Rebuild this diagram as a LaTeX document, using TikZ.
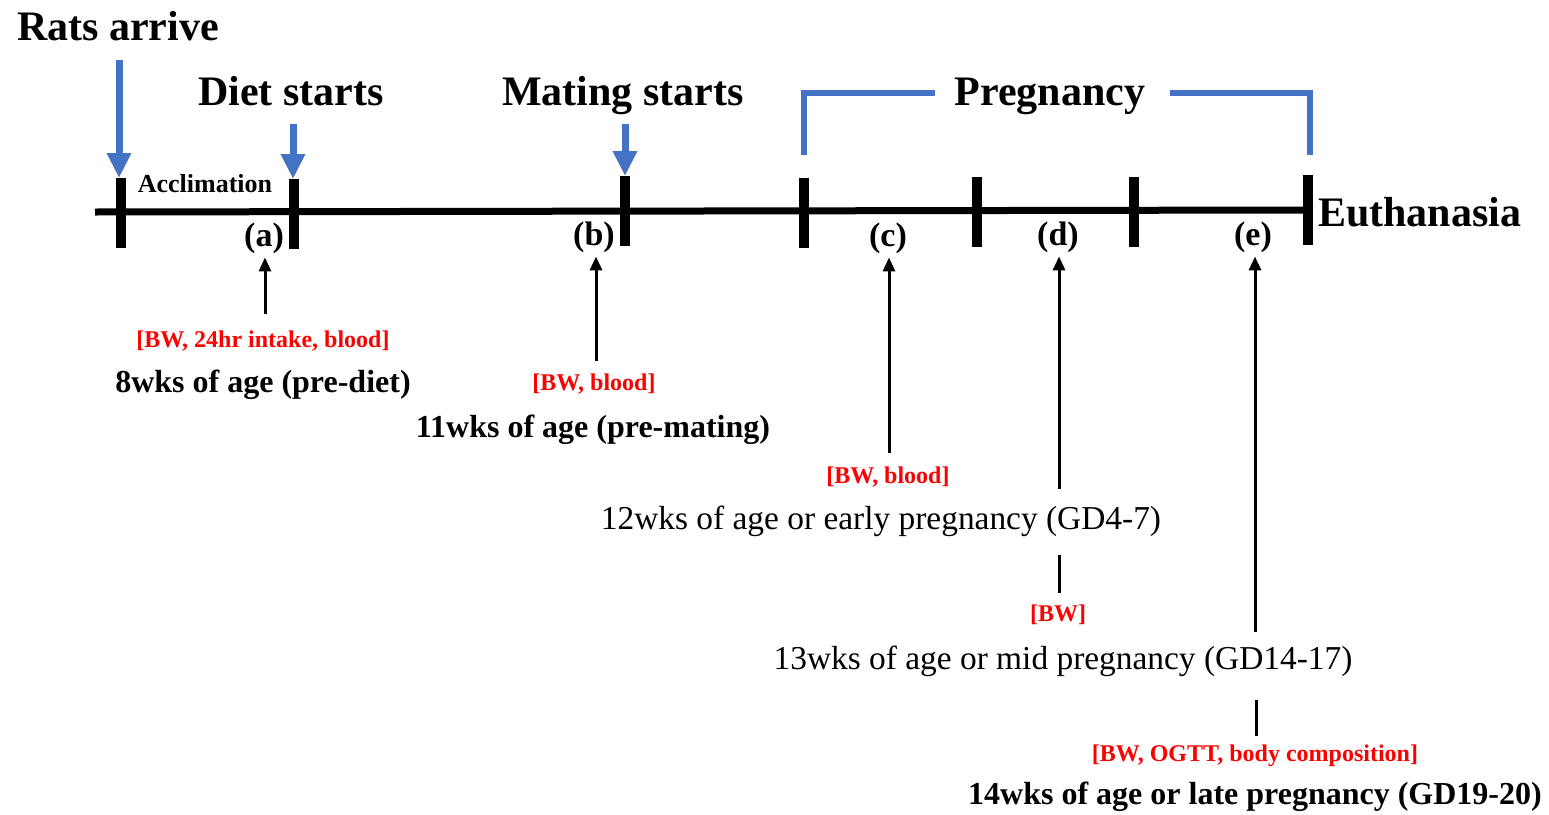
\documentclass[tikz,border=0pt]{standalone}
\usepackage{fontspec}
\setmainfont{Liberation Serif}
\usetikzlibrary{arrows.meta}
\definecolor{accent}{HTML}{4472C4}
\definecolor{note}{HTML}{FF0000}
\tikzset{
  every node/.style={inner sep=0pt, outer sep=0pt},
  headline/.style={font=\bfseries\fontsize{42}{46}\selectfont},
  periodlbl/.style={font=\bfseries\fontsize{26}{28}\selectfont},
  letterlbl/.style={font=\bfseries\fontsize{34}{38}\selectfont, inner sep=4pt},
  measure/.style={font=\bfseries\fontsize{24}{26}\selectfont, text=note},
  agebold/.style={font=\bfseries\fontsize{32}{36}\selectfont},
  ageplain/.style={font=\fontsize{33.4}{37}\selectfont},
  tickmark/.style={fill=black, minimum width=10pt, minimum height=70pt},
  timeline/.style={line width=7pt, black},
  bluearrow/.style={accent, line width=7pt, -{Triangle[width=23pt,length=25pt]}},
  bracketline/.style={accent, line width=6pt},
  blackarrow/.style={black, line width=3pt, -{Triangle[width=12pt,length=14pt]}},
  blackline/.style={black, line width=3pt}
}
\begin{document}
\begin{tikzpicture}[x=1pt, y=-1pt]
\useasboundingbox (0,0) rectangle (1549,814);

% main time axis
\coordinate (axisstart) at (95,212);
\node[tickmark] (t1) at (121,213) {};
\node[tickmark] (t2) at (294,214) {};
\node[tickmark] (t3) at (625,211) {};
\node[tickmark] (t4) at (804,213) {};
\node[tickmark] (t5) at (977,212) {};
\node[tickmark] (t6) at (1134,212) {};
\node[tickmark] (t7) at (1308,210) {};
\draw[timeline] (axisstart) -- (t7.center);

% events above the axis
\node[headline, anchor=base] (rats) at (118,40) {Rats arrive};
\node[headline, anchor=base] (diet) at (291,105) {Diet starts};
\node[headline, anchor=base] (mating) at (623,105) {Mating starts};
\node[headline, anchor=base] (preg) at (1050,105) {Pregnancy};
\node[headline, anchor=west] (euth) at (1318,212) {Euthanasia};
\node[periodlbl] (accl) at (205,184) {Acclimation};

\coordinate (ratstail) at (119,60);
\coordinate (diettail) at (293,124);
\coordinate (matingtail) at (625,124);
\draw[bluearrow] (ratstail) -- (t1.north -| ratstail);
\draw[bluearrow] (diettail) -- (t2.north -| diettail);
\draw[bluearrow] (matingtail) -- (t3.north -| matingtail);

% pregnancy bracket
\coordinate (pregL) at (804,155);
\coordinate (pregR) at (1310,155);
\coordinate (pregLend) at (935,93);
\coordinate (pregRend) at (1170,93);
\draw[bracketline] (pregL) |- (pregLend);
\draw[bracketline] (pregR) |- (pregRend);

% sampling points
\node[letterlbl] (a) at (264,238) {(a)};
\node[letterlbl] (b) at (594,237) {(b)};
\node[letterlbl] (c) at (888,238) {(c)};
\node[letterlbl] (d) at (1058,237) {(d)};
\node[letterlbl] (e) at (1253,237) {(e)};

\node[measure] (ma) at (263,341) {[BW, 24hr intake, blood]};
\node[agebold] (aa) at (263,385) {8wks of age (pre-diet)};
\node[measure] (mb) at (594,384) {[BW, blood]};
\node[agebold] (ab) at (593,430) {11wks of age (pre-mating)};
\node[measure] (mc) at (888,477) {[BW, blood]};
\node[ageplain] (ac) at (881,521) {12wks of age or early pregnancy (GD4-7)};
\node[measure] (md) at (1058,615) {[BW]};
\node[ageplain] (ad) at (1063,661) {13wks of age or mid pregnancy (GD14-17)};
\node[measure] (me) at (1255,756) {[BW, OGTT, body composition]};
\node[agebold] (ae) at (1255,797) {14wks of age or late pregnancy (GD19-20)};

% arrows from the measurements up to the sampling points
\coordinate (atail) at (265,314);
\coordinate (btail) at (596,361);
\coordinate (ctail) at (889,453);
\coordinate (dtail) at (1059,489);
\coordinate (dlow1) at (1059,555);
\coordinate (dlow2) at (1059,593);
\coordinate (etail) at (1255,632);
\coordinate (elow1) at (1256,700);
\coordinate (elow2) at (1256,736);
\draw[blackarrow] (atail) -- (a.south -| atail);
\draw[blackarrow] (btail) -- (b.south -| btail);
\draw[blackarrow] (ctail) -- (c.south -| ctail);
\draw[blackarrow] (dtail) -- (d.south -| dtail);
\draw[blackline] (dlow1) -- (dlow2);
\draw[blackarrow] (etail) -- (e.south -| etail);
\draw[blackline] (elow1) -- (elow2);
\end{tikzpicture}
\end{document}
